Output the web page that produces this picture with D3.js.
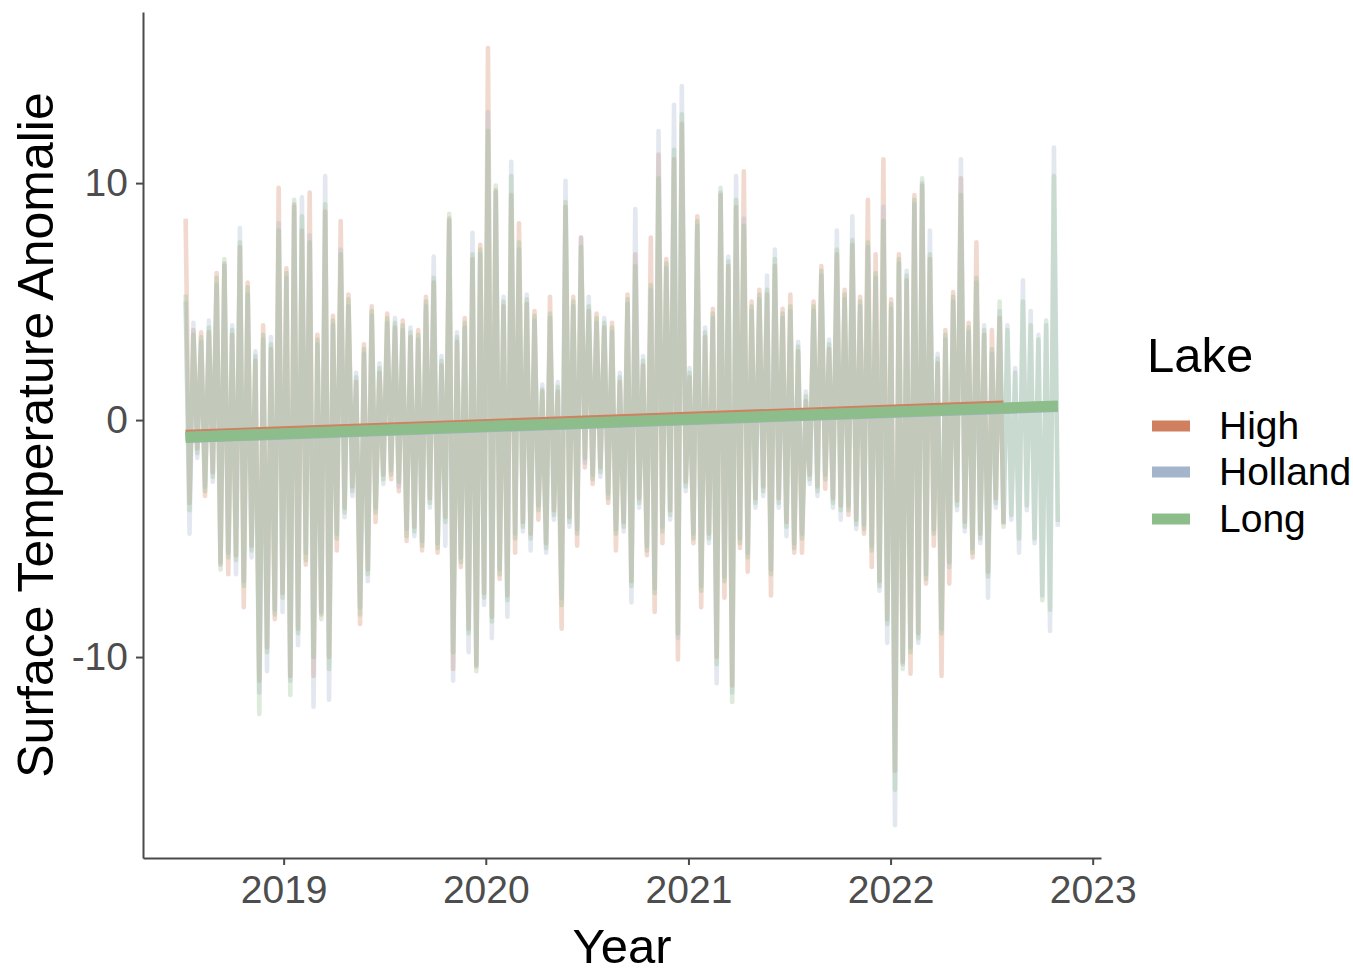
<!DOCTYPE html>
<html lang="en">
<head>
<meta charset="UTF-8">
<title>Surface Temperature Anomalie</title>
<script src="https://d3js.org/d3.v7.min.js"></script>
<style>
  body { margin: 0; background: #fff; }
  text { font-family: "Liberation Sans", Arial, Helvetica, sans-serif; }
</style>
</head>
<body>
<div id="my_dataviz"></div>
<script>
// weekly surface temperature anomalies (peak, trough, peak, ...)
var lakes = ["High", "Holland", "Long"];

var highVals = [
  8.5,-3.5, 3.8,-1.2, 3.7,-3.2, 3.7,-2.2, 6.2,-6.1, 6.6,-6.5, 3.6,-5.7, 7.3,-7.9, 5.8,-5.3, 2.5,-11.0,
  4.0,-9.6, 3.0,-8.4, 9.8,-7.3, 6.4,-10.8, 9.1,-8.8, 8.0,-6.1, 9.6,-10.8, 3.6,-8.2, 8.8,-10.0, 4.4,-5.5,
  8.4,-3.7, 5.3,-2.8, 1.6,-8.6, 3.2,-6.3, 4.8,-4.3, 2.0,-2.3, 4.5,-2.5, 3.9,-3.0, 4.2,-5.1, 3.5,-4.5,
  3.8,-5.5, 5.2,-3.3, 5.8,-5.6, 2.3,-4.1, 8.5,-10.5, 3.3,-6.2, 4.3,-8.8, 6.8,-10.4, 7.4,-7.3, 15.7,-8.3,
  9.7,-6.7, 4.8,-7.4, 9.5,-5.6, 8.3,-4.3, 4.9,-4.8, 4.6,-4.2, 1.2,-5.2, 5.2,-3.8, 1.2,-8.8, 9.0,-4.1,
  5.2,-5.3, 7.7,-2.0, 4.6,-2.7, 4.5,-2.0, 3.9,-3.5, 4.1,-5.5, 1.6,-4.3, 5.3,-6.8, 7.0,-3.3, 2.3,-5.7,
  7.7,-8.1, 11.2,-5.2, 6.8,-3.8, 11.0,-10.1, 12.5,-2.6, 1.8,-5.2, 8.6,-7.9, 3.5,-4.8, 4.7,-10.0, 9.5,-7.5,
  6.5,-11.2, 9.0,-5.4, 10.5,-6.4, 5.0,-3.3, 5.5,-2.8, 5.3,-7.4, 6.5,-3.3, 4.7,-4.3, 5.3,-5.6, 2.9,-5.6,
  0.8,-2.3, 5.0,-2.8, 6.5,-2.9, 3.0,-3.3, 7.0,-3.6, 5.5,-4.0, 7.4,-4.2, 5.2,-4.8, 9.3,-6.2, 7.0,-6.8,
  11.0,-8.4, 5.1,-14.8, 7.0,-10.2, 5.9,-10.7, 9.5,-9.0, 9.9,-6.9, 6.8,-5.3, 2.4,-10.8, 3.8,-6.9, 5.4,-3.4,
  10.2,-4.3, 4.1,-5.8, 7.5,-4.8, 3.6,-6.4, 3.8,-3.3, 4.3,-4.4
];

var hollandVals = [
  5.0,-4.8, 4.1,-1.6, 3.3,-2.8, 4.2,-2.6, 5.7,-6.0, 6.5,-5.6, 4.0,-6.5, 8.1,-6.8, 5.3,-5.8, 2.9,-11.5,
  3.4,-10.6, 3.5,-8.0, 8.3,-8.1, 6.0,-11.0, 9.0,-9.5, 9.4,-5.6, 7.8,-12.1, 3.2,-8.1, 10.3,-11.8, 4.0,-4.8,
  7.2,-4.1, 4.8,-3.2, 2.0,-7.9, 2.8,-6.8, 4.4,-3.7, 2.4,-2.7, 4.1,-2.1, 4.3,-2.8, 3.8,-4.6, 3.9,-4.9,
  3.4,-5.1, 4.8,-3.7, 6.9,-5.2, 2.7,-5.3, 8.4,-11.0, 3.7,-5.8, 3.9,-9.8, 7.9,-10.3, 7.0,-7.8, 13.0,-9.2,
  9.6,-6.3, 5.2,-8.3, 10.9,-4.8, 7.2,-4.7, 5.3,-5.5, 4.2,-3.6, 1.5,-5.6, 4.3,-4.2, 1.6,-7.5, 10.1,-4.5,
  4.8,-4.6, 7.7,-1.8, 5.2,-2.3, 4.1,-2.4, 4.3,-3.1, 3.7,-4.6, 2.0,-4.7, 4.9,-7.7, 8.9,-3.7, 2.7,-5.3,
  5.5,-7.1, 12.2,-4.5, 6.4,-4.2, 13.3,-9.2, 14.1,-3.0, 2.2,-4.8, 8.2,-7.0, 3.9,-5.2, 4.3,-11.1, 9.6,-6.6,
  6.9,-11.5, 10.3,-5.0, 8.5,-5.6, 4.6,-3.7, 5.1,-3.2, 6.1,-6.3, 7.2,-3.7, 4.3,-4.9, 4.6,-5.2, 3.3,-4.8,
  1.2,-2.7, 4.6,-3.2, 6.1,-2.3, 3.4,-3.7, 8.0,-4.2, 5.1,-3.6, 8.6,-4.6, 4.8,-4.4, 7.3,-5.3, 6.0,-7.2,
  9.0,-9.4, 4.7,-17.1, 6.6,-10.3, 6.3,-9.6, 9.1,-9.4, 10.0,-6.5, 8.0,-4.6, 2.8,-8.8, 3.4,-6.2, 5.0,-3.8,
  11.0,-4.7, 3.7,-5.4, 5.8,-5.2, 4.0,-7.5, 2.8,-3.7, 4.6,-4.3, 4.0,-4.2, 2.2,-5.6, 5.9,-3.8, 4.6,-5.2,
  3.6,-7.4, 4.0,-8.9, 11.5,-4.5
];

var longVals = [
  5.3,-3.8, 3.6,-1.4, 3.5,-3.0, 3.9,-2.4, 6.0,-6.3, 6.8,-5.8, 3.8,-5.9, 7.5,-7.0, 5.6,-5.5, 2.7,-12.4,
  3.6,-9.8, 3.2,-8.2, 8.0,-7.5, 6.2,-11.6, 9.3,-9.0, 8.6,-5.9, 7.5,-10.0, 3.4,-8.4, 9.1,-10.5, 4.2,-5.0,
  7.0,-3.9, 5.1,-3.0, 1.8,-8.2, 3.0,-6.5, 4.6,-3.9, 2.2,-2.5, 4.3,-2.3, 4.1,-2.6, 4.0,-4.9, 3.7,-4.7,
  3.6,-5.3, 5.0,-3.5, 6.0,-5.4, 2.5,-4.3, 8.7,-9.8, 3.5,-6.0, 4.1,-9.0, 7.0,-10.6, 7.2,-7.5, 12.2,-8.5,
  9.9,-6.5, 5.0,-7.6, 10.3,-5.0, 7.5,-4.5, 5.1,-5.0, 4.4,-3.8, 1.3,-5.4, 4.5,-4.0, 1.4,-7.8, 9.2,-4.3,
  5.0,-4.8, 7.3,-1.6, 4.8,-2.5, 4.3,-2.2, 4.1,-3.3, 3.9,-4.8, 1.8,-4.5, 5.1,-7.0, 6.5,-3.5, 2.5,-5.5,
  5.7,-7.3, 10.2,-4.7, 6.6,-4.0, 11.4,-9.0, 12.9,-2.8, 2.0,-5.0, 8.4,-7.2, 3.7,-5.0, 4.5,-10.3, 9.8,-6.8,
  6.7,-11.9, 9.3,-5.2, 8.2,-5.8, 4.8,-3.5, 5.3,-3.0, 5.5,-6.5, 6.8,-3.5, 4.5,-4.5, 4.8,-5.4, 3.1,-5.0,
  1.0,-2.5, 4.8,-3.0, 6.3,-2.5, 3.2,-3.5, 7.2,-3.8, 5.3,-3.8, 7.6,-4.4, 5.0,-4.6, 7.5,-5.5, 6.2,-7.0,
  8.4,-8.6, 4.9,-15.6, 6.8,-10.5, 6.1,-9.8, 9.3,-9.2, 10.2,-6.7, 7.0,-4.8, 2.6,-9.0, 3.6,-6.0, 5.2,-3.6,
  9.5,-4.5, 3.9,-5.6, 6.0,-5.0, 3.8,-6.6, 3.0,-3.5, 5.0,-4.5, 3.8,-4.0, 2.0,-5.0, 5.0,-3.6, 4.0,-5.0,
  3.4,-7.6, 4.2,-8.0, 10.3,-4.3
];

var firstDay = "2018-07-08";
var stepDays = 7;

// lm trend per lake: value at first and at last observation
var trendFrom = [-0.64, -0.74, -0.72];
var trendTo = [0.59, 0.57, 0.59];

var xTickYears = [2019, 2020, 2021, 2022, 2023];
var yTickVals = [-10, 0, 10];

var color = d3.scaleOrdinal()
    .domain(lakes)
    .range(["#D0805F", "#A3B4CC", "#8DBD8B"]);

var W = 1353, H = 974;
var panel = {left: 143, right: 1101, top: 12, bottom: 858};

var svg = d3.select("#my_dataviz")
  .append("svg")
    .attr("width", W)
    .attr("height", H);

var parse = d3.timeParse("%Y-%m-%d");
var day0 = parse(firstDay);

var series = [highVals, hollandVals, longVals].map(function(vals, i) {
  return {
    lake: lakes[i],
    points: vals.map(function(v, k) {
      return {date: d3.timeDay.offset(day0, k * stepDays), value: v};
    })
  };
});

var x = d3.scaleTime()
    .domain([new Date(2018, 3, 22), new Date(2023, 0, 16)])
    .range([panel.left, panel.right]);

var y = d3.scaleLinear()
    .domain([-18.48, 17.22])
    .range([panel.bottom, panel.top]);

// raw anomaly lines
var line = d3.line()
    .x(function(d) { return x(d.date); })
    .y(function(d) { return y(d.value); });

svg.append("g")
  .selectAll("path")
  .data(series)
  .enter()
  .append("path")
    .attr("d", function(d) { return line(d.points); })
    .attr("fill", "none")
    .attr("stroke", function(d) { return color(d.lake); })
    .attr("stroke-width", 4.6)
    .attr("stroke-linejoin", "round")
    .attr("stroke-opacity", 0.3);

// trend lines
svg.append("g")
  .selectAll("line")
  .data(series)
  .enter()
  .append("line")
    .attr("x1", function(d) { return x(d.points[0].date); })
    .attr("x2", function(d) { return x(d.points[d.points.length - 1].date); })
    .attr("y1", function(d, i) { return y(trendFrom[i]); })
    .attr("y2", function(d, i) { return y(trendTo[i]); })
    .attr("stroke", function(d) { return color(d.lake); })
    .attr("stroke-width", 11);

// axes
var xAxis = svg.append("g")
    .attr("transform", "translate(0," + panel.bottom + ")")
    .call(d3.axisBottom(x)
      .tickValues(xTickYears.map(function(yr) { return new Date(yr, 0, 1); }))
      .tickFormat(d3.timeFormat("%Y"))
      .tickSize(7)
      .tickPadding(10)
      .tickSizeOuter(0));

var yAxis = svg.append("g")
    .attr("transform", "translate(" + panel.left + ",0)")
    .call(d3.axisLeft(y)
      .tickValues(yTickVals)
      .tickFormat(function(d) { return String(d); })
      .tickSize(7)
      .tickPadding(8)
      .tickSizeOuter(0));

[xAxis, yAxis].forEach(function(g) {
  g.attr("font-family", null).attr("font-size", null);
  g.select(".domain").attr("stroke", "#4a4a4a").attr("stroke-width", 2);
  g.selectAll(".tick line").attr("stroke", "#4a4a4a").attr("stroke-width", 2);
  g.selectAll(".tick text")
    .style("font-size", "39px")
    .attr("fill", "#4d4d4d");
});

// axis titles
svg.append("text")
    .attr("x", (panel.left + panel.right) / 2)
    .attr("y", 963)
    .style("text-anchor", "middle")
    .style("font-size", "49px")
    .text("Year");

svg.append("text")
    .attr("transform", "translate(53," + (panel.top + panel.bottom) / 2 + ") rotate(-90)")
    .style("text-anchor", "middle")
    .style("font-size", "50px")
    .text("Surface Temperature Anomalie");

// legend
var legend = svg.append("g");
legend.append("text")
    .attr("x", 1147)
    .attr("y", 372)
    .style("font-size", "49px")
    .text("Lake");

var keyY = [426, 472, 519];
lakes.forEach(function(lake, i) {
  legend.append("line")
      .attr("x1", 1152).attr("x2", 1190)
      .attr("y1", keyY[i]).attr("y2", keyY[i])
      .attr("stroke", color(lake))
      .attr("stroke-width", 11);
  legend.append("text")
      .attr("x", 1219)
      .attr("y", keyY[i] + 13)
      .style("font-size", "39px")
      .text(lake);
});
</script>
</body>
</html>
